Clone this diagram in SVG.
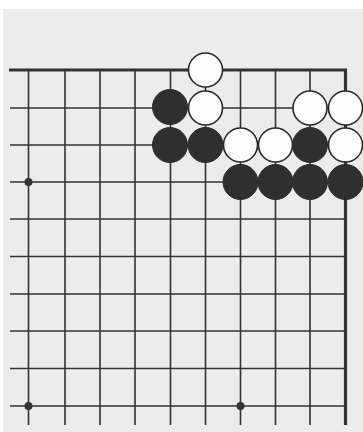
<svg xmlns="http://www.w3.org/2000/svg" width="363" height="432" viewBox="0 0 363 432">
<style>
.g{stroke:#333;stroke-width:1.6;fill:none}
.edge{stroke:#333;stroke-width:3.2;fill:none}
.b{fill:#2f2f2f;stroke:#2a2a2a;stroke-width:1}
.w{fill:#fcfcfc;stroke:#2a2a2a;stroke-width:1.6}
.h{fill:#333}
</style>
<rect width="363" height="432" fill="#fff"/>
<rect x="3" y="9" width="360" height="423" fill="#ececec"/>
<g id="grid">
<path class="g" d="M10,108H345.5M10,145H345.5M10,182H345.5M10,219H345.5M10,256.5H345.5M10,294H345.5M10,331H345.5M10,368.5H345.5M10,406H345.5"/>
<path class="g" d="M28.5,70V425M65,70V425M100,70V425M135,70V425M170.5,70V425M205.5,70V425M240.5,70V425M275.5,70V425M310,70V425"/>
<path class="edge" d="M9,70H345.5V425"/>
</g>
<g id="hoshi">
<circle class="h" cx="28.5" cy="182" r="4"/>
<circle class="h" cx="28.5" cy="406" r="4"/>
<circle class="h" cx="240.5" cy="406" r="4"/>
</g>
<g id="stones">
<circle id="w-5-0" class="w" cx="205.5" cy="70" r="17"/>
<circle id="b-4-1" class="b" cx="170" cy="107" r="17.5"/>
<circle id="w-5-1" class="w" cx="205.5" cy="108" r="17"/>
<circle id="w-8-1" class="w" cx="310" cy="108" r="17"/>
<circle id="w-9-1" class="w" cx="345.5" cy="108" r="17"/>
<circle id="b-4-2" class="b" cx="170" cy="145" r="17.5"/>
<circle id="b-5-2" class="b" cx="205.5" cy="145" r="17.5"/>
<circle id="w-6-2" class="w" cx="240.5" cy="145" r="17"/>
<circle id="w-7-2" class="w" cx="275.5" cy="145" r="17"/>
<circle id="b-8-2" class="b" cx="310" cy="145" r="17.5"/>
<circle id="w-9-2" class="w" cx="345.5" cy="145" r="17"/>
<circle id="b-6-3" class="b" cx="240.5" cy="182" r="17.5"/>
<circle id="b-7-3" class="b" cx="275.5" cy="182" r="17.5"/>
<circle id="b-8-3" class="b" cx="310" cy="182" r="17.5"/>
<circle id="b-9-3" class="b" cx="345.5" cy="182" r="17.5"/>
</g>
</svg>
